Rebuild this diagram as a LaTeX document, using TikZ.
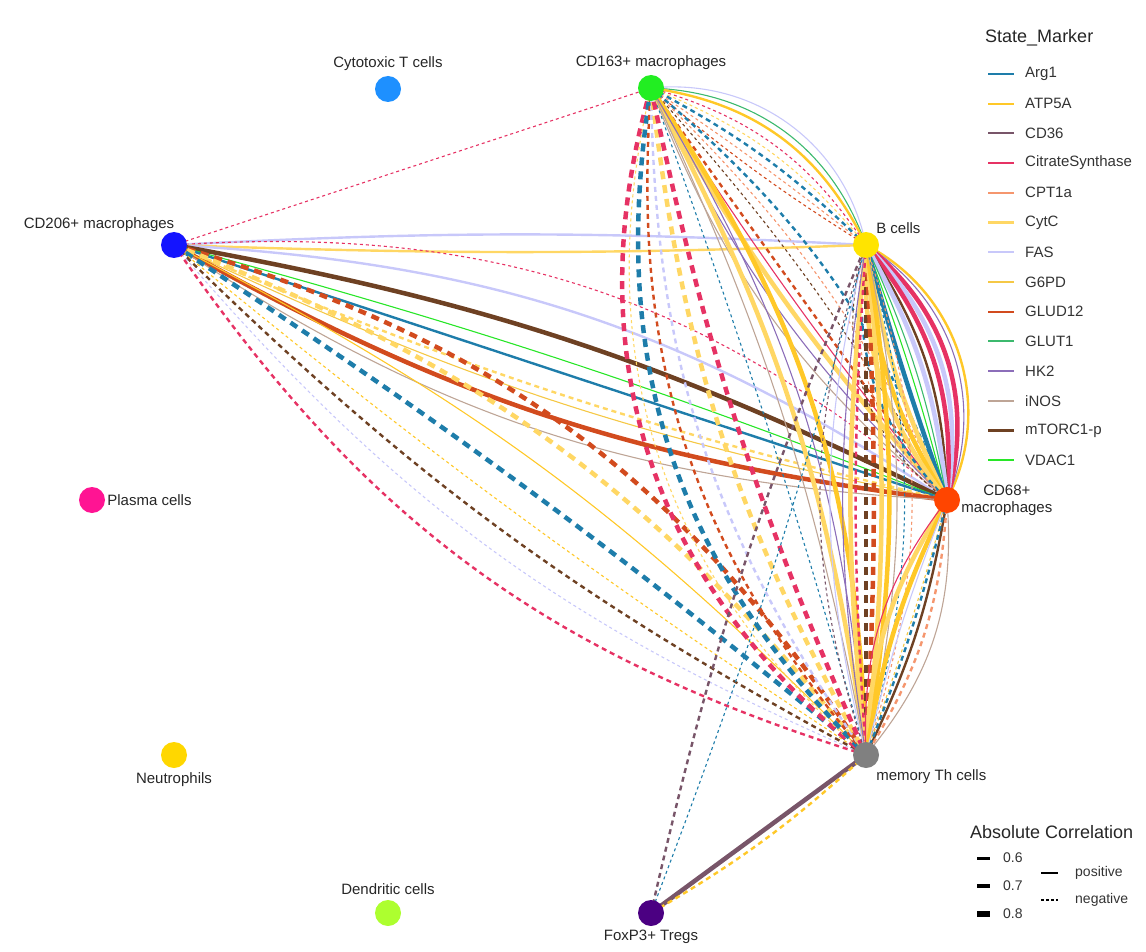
\documentclass[tikz,border=0pt]{standalone}
\usepackage{fontspec}
\setmainfont{Liberation Sans}
\usetikzlibrary{positioning,backgrounds}

% marker colours
\definecolor{arg}{RGB}{30,125,170}
\definecolor{atp}{RGB}{255,200,40}
\definecolor{cd36}{RGB}{120,85,105}
\definecolor{csyn}{RGB}{230,50,100}
\definecolor{cpt}{RGB}{245,150,110}
\definecolor{cytc}{RGB}{255,215,100}
\definecolor{fas}{RGB}{200,200,250}
\definecolor{g6pd}{RGB}{245,200,70}
\definecolor{glud}{RGB}{210,75,30}
\definecolor{glut}{RGB}{60,185,110}
\definecolor{hk}{RGB}{140,110,185}
\definecolor{inos}{RGB}{190,165,150}
\definecolor{mtor}{RGB}{110,65,35}
\definecolor{vdac}{RGB}{40,230,40}
% cell colours
\definecolor{cctl}{RGB}{30,144,255}
\definecolor{cm163}{RGB}{34,238,34}
\definecolor{cm206}{RGB}{20,20,255}
\definecolor{cbcell}{RGB}{255,228,0}
\definecolor{cplasma}{RGB}{255,20,147}
\definecolor{cm68}{RGB}{255,69,0}
\definecolor{cneut}{RGB}{255,215,0}
\definecolor{cmth}{RGB}{128,128,128}
\definecolor{cdc}{RGB}{173,255,47}
\definecolor{ctreg}{RGB}{75,0,130}

\begin{document}
\begin{tikzpicture}[x=1pt,y=-1pt,
    cell/.style={circle,fill=#1,minimum size=26pt,inner sep=0pt},
    lbl/.style={font=\fontsize{15}{17}\selectfont,text=black!85,inner sep=0pt},
    ttl/.style={font=\fontsize{18}{20}\selectfont,text=black!85,inner sep=0pt,anchor=west},
    leg/.style={font=\fontsize{15}{17}\selectfont,text=black!80,inner sep=0pt,anchor=west},
    p1/.style={line width=1.1pt},
    p2/.style={line width=2.4pt},
    p3/.style={line width=4.5pt},
    n1/.style={line width=1.1pt,dash pattern=on 3pt off 3pt},
    n2/.style={line width=2.4pt,dash pattern=on 5pt off 4pt},
    n3/.style={line width=4.5pt,dash pattern=on 8pt off 6pt}]
  \useasboundingbox (0,0) rectangle (1146,952);

  % cell types
  \node[cell=cctl,label={[lbl,label distance=5pt]above:Cytotoxic T cells}] (ctl) at (388,89) {};
  \node[cell=cm163,label={[lbl,label distance=5pt]above:CD163+ macrophages}] (m163) at (651,88) {};
  \node[cell=cm206,label={[lbl,anchor=south east,label distance=0pt]88:CD206+ macrophages}] (m206) at (174,245) {};
  \node[cell=cbcell,label={[lbl,anchor=south west,label distance=0pt,yshift=3pt]40:B cells}] (bcell) at (866,245) {};
  \node[cell=cplasma,label={[lbl,label distance=2pt]right:Plasma cells}] (plasma) at (92,500) {};
  \node[cell=cm68,label={[lbl,align=center,label distance=1pt]right:CD68+\\macrophages}] (m68) at (947,500) {};
  \node[cell=cneut,label={[lbl,label distance=4pt]below:Neutrophils}] (neut) at (174,755) {};
  \node[cell=cmth,label={[lbl,anchor=north west,label distance=0pt,yshift=-6pt]-40:memory Th cells}] (mth) at (866,755) {};
  \node[cell=cdc,label={[lbl,label distance=5pt]above:Dendritic cells}] (dc) at (388,913) {};
  \node[cell=ctreg,label={[lbl,label distance=4pt]below:FoxP3+ Tregs}] (treg) at (651,913) {};

  % correlations
  \begin{scope}[on background layer]
  \foreach \a/\b/\c/\t/\k in {
     m206/m163/csyn/n1/0,
     m206/bcell/fas/p2/3, m206/bcell/cytc/p2/-2,
     m206/m68/csyn/n1/22, m206/m68/fas/p2/15, m206/m68/mtor/p3/8,
     m206/m68/vdac/p1/3, m206/m68/arg/p2/0, m206/m68/cytc/n2/-5,
     m206/m68/g6pd/p1/-7, m206/m68/glud/p3/-11, m206/m68/inos/p1/-15,
     m206/mth/glud/n3/20, m206/mth/cytc/n3/15, m206/mth/atp/p1/9,
     m206/mth/arg/n3/3, m206/mth/atp/n1/-3, m206/mth/mtor/n2/-8,
     m206/mth/fas/n1/-13, m206/mth/csyn/n2/-19,
     m163/bcell/fas/p1/42, m163/bcell/glut/p1/34, m163/bcell/atp/p2/28,
     m163/bcell/csyn/n1/20, m163/bcell/cytc/n1/14, m163/bcell/arg/n2/8,
     m163/bcell/cpt/n1/2, m163/bcell/glud/n1/-4,
     m163/m68/cytc/p3/-6, m163/m68/glud/n2/0, m163/m68/csyn/p1/-3,
     m163/m68/mtor/n1/6, m163/m68/cpt/n1/10, m163/m68/arg/n2/14,
     m163/m68/hk/p1/-10, m163/m68/inos/p1/-14,
     m163/mth/csyn/n3/-34, m163/mth/cytc/n1/-31, m163/mth/arg/n3/-27,
     m163/mth/glud/n2/-22, m163/mth/fas/n2/-17, m163/mth/cytc/n3/-11,
     m163/mth/csyn/n3/-6, m163/mth/arg/n1/2, m163/mth/cytc/p3/10,
     m163/mth/atp/p3/16, m163/mth/hk/p1/13, m163/mth/inos/p1/7,
     bcell/m68/atp/p2/45, bcell/m68/hk/p1/40, bcell/m68/csyn/p3/33,
     bcell/m68/fas/p3/27, bcell/m68/csyn/p3/22, bcell/m68/mtor/p2/16,
     bcell/m68/fas/p3/12, bcell/m68/glut/p1/7, bcell/m68/vdac/p1/3,
     bcell/m68/arg/p3/-2, bcell/m68/cytc/p3/-8, bcell/m68/atp/p3/-14,
     bcell/m68/cytc/p3/-20, bcell/m68/arg/n2/-26, bcell/m68/cpt/n1/-30,
     bcell/m68/mtor/n1/-36,
     bcell/mth/mtor/n3/0, bcell/mth/glud/n3/3, bcell/mth/cytc/p3/6,
     bcell/mth/atp/p3/9, bcell/mth/cytc/p3/-6, bcell/mth/fas/p1/-14,
     bcell/mth/hk/p1/-9, bcell/mth/csyn/n2/-4, bcell/mth/inos/p1/12,
     bcell/mth/cd36/n1/-18, bcell/mth/arg/n1/15, bcell/mth/cpt/n1/18,
     m68/mth/cytc/p3/-15, m68/mth/atp/p3/-8, m68/mth/csyn/p1/-20,
     m68/mth/fas/p1/-4, m68/mth/g6pd/n1/2, m68/mth/mtor/p2/8,
     m68/mth/cpt/n2/14, m68/mth/inos/p1/22, m68/mth/arg/n2/4,
     mth/treg/cd36/p3/0, mth/treg/atp/n2/6,
     treg/bcell/cd36/n2/5, treg/bcell/arg/n1/-3}
    \draw[\c,\t] (\a.center) to[bend left=\k] (\b.center);
  \end{scope}

  % legend: markers
  \node[ttl] (mkttl) at (985,38) {State\_Marker};
  \foreach \c/\n [count=\i] in {arg/Arg1,atp/ATP5A,cd36/CD36,csyn/CitrateSynthase,
      cpt/CPT1a,cytc/CytC,fas/FAS,g6pd/G6PD,glud/GLUD12,glut/GLUT1,hk/HK2,
      inos/iNOS,mtor/mTORC1-p,vdac/VDAC1}
   { \draw[\c,line width=2.2pt] (988,44.3+29.7*\i) -- ++(26,0);
     \node[leg] (key\i) at (1025,44.3+29.7*\i) {\n};
   }

  % legend: correlation
  \node[ttl] (crttl) at (970,832) {Absolute Correlation};
  \foreach \w/\y/\v in {3/858/0.6,4.5/886/0.7,6/914/0.8}
   { \draw[line width=\w pt] (977,\y) -- ++(13,0);
     \node[leg,font=\fontsize{14}{16}\selectfont] (w\v) at (1003,\y) {\v};
   }
  \draw[line width=1.1pt] (1041,873) -- ++(17,0);
  \node[leg,font=\fontsize{14}{16}\selectfont] (pos) at (1075,873) {positive};
  \draw[line width=1.1pt,dash pattern=on 3pt off 2pt] (1041,900) -- ++(17,0);
  \node[leg,font=\fontsize{14}{16}\selectfont] (neg) at (1075,900) {negative};
\end{tikzpicture}
\end{document}
